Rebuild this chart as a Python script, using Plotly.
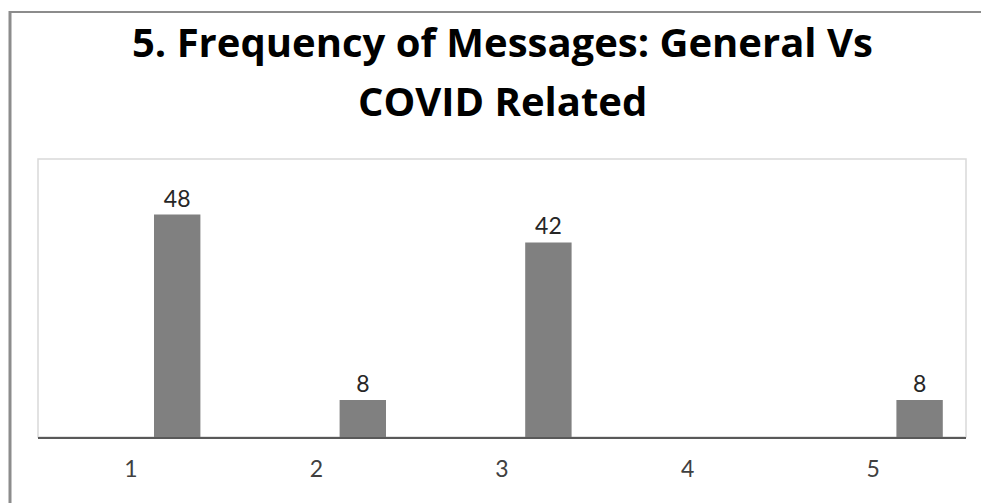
import plotly.graph_objects as go

categories = [1, 2, 3, 4, 5]
tick_labels = ["1", "2", "3", "4", "5"]
values = [48, 8, 42, 0, 8]
title_lines = ["5. Frequency of Messages: General Vs", "COVID Related"]

labels = [str(v) if v else "" for v in values]

W, H = 981, 503
L, R, T, B = 38, 15, 159, 66
PW, PH = W - L - R, H - T - B


def px(x):
    return (x - L) / PW


def py(y):
    return (H - B - y) / PH


fig = go.Figure()
fig.add_trace(go.Bar(
    x=categories, y=values, text=labels, textposition="outside",
    width=0.25, offset=0.125,
    marker=dict(color="#808080", line=dict(width=0)),
    textfont=dict(family="Lato", size=23, color="#262626"),
    cliponaxis=False,
))

annotations = []
for line, yc in zip(title_lines, [42, 100]):
    annotations.append(dict(
        text=line, xref="paper", yref="paper", x=0.5, y=py(yc),
        xanchor="center", yanchor="middle", showarrow=False,
        font=dict(family="Open Sans", size=40, color="black", weight="bold"),
    ))

fig.update_layout(
    width=W, height=H,
    margin=dict(l=L, r=R, t=T, b=B),
    paper_bgcolor="white", plot_bgcolor="white",
    showlegend=False,
    annotations=annotations,
    xaxis=dict(range=[0.5, 5.5], tickvals=categories, ticktext=tick_labels,
               showgrid=False, zeroline=False, showline=True, linecolor="#595959",
               linewidth=2, ticks="", ticklabelstandoff=10,
               tickfont=dict(family="Lato", size=23, color="#404040")),
    yaxis=dict(range=[0, 60], showticklabels=False, showgrid=False,
               zeroline=False, showline=False, ticks=""),
    shapes=[
        dict(type="rect", xref="paper", yref="paper", x0=0, x1=1, y0=0, y1=1,
             line=dict(color="#d9d9d9", width=1.5), layer="below"),
        dict(type="line", xref="paper", yref="paper",
             x0=px(10), x1=px(10), y0=py(510), y1=py(11),
             line=dict(color="#8c8c8c", width=3)),
        dict(type="line", xref="paper", yref="paper",
             x0=px(9), x1=px(990), y0=py(12), y1=py(12),
             line=dict(color="#8c8c8c", width=2)),
    ],
)

fig.write_html("out.html", config={"displayModeBar": False},
               post_script="document.body.style.margin='0';document.body.style.overflow='hidden';")
